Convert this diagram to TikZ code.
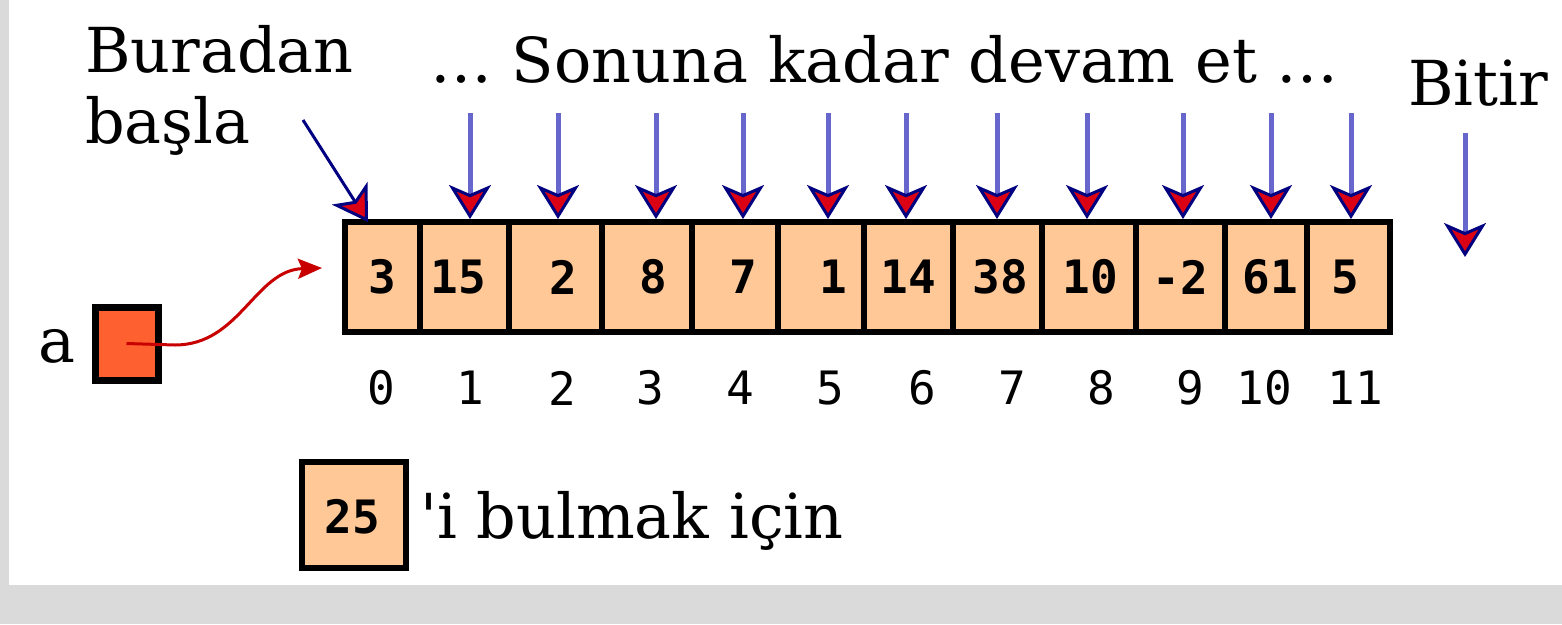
\documentclass[tikz,border=0pt]{standalone}
\usepackage{fontspec}
\setmainfont{DejaVu Serif}
\newfontfamily\monofont{DejaVu Sans Mono}
\usetikzlibrary{arrows.meta}
\definecolor{bggray}{RGB}{218,218,218}
\definecolor{peach}{RGB}{255,200,150}
\definecolor{redbox}{RGB}{255,96,48}
\definecolor{shaft}{RGB}{102,102,204}
\definecolor{tipred}{RGB}{220,0,20}
\definecolor{tipnavy}{RGB}{0,0,128}
\definecolor{curvered}{RGB}{200,0,0}
\tikzset{
  serif/.style={font=\fontsize{62}{74}\selectfont, inner sep=0pt, anchor=base west},
  cellbox/.style={draw=black, line width=6pt, fill=peach, minimum height=110pt, inner sep=0pt},
  val/.style={font=\monofont\bfseries\fontsize{46}{50}\selectfont, inner sep=0pt},
  idx/.style={font=\monofont\fontsize{46}{50}\selectfont, inner sep=0pt},
  bluetip/.style={-{Stealth[length=34pt,width=42pt,inset=9pt,fill=tipred,color=tipnavy,line width=3pt]}},
  downarrow/.style={bluetip, draw=shaft, line width=5pt},
  startarrow/.style={bluetip, draw=tipnavy, line width=3pt},
  redarrow/.style={-{Stealth[length=24pt,width=20pt,inset=4pt]}, draw=curvered, line width=3pt},
}
\begin{document}
\begin{tikzpicture}[x=1pt,y=-1pt]
\useasboundingbox (0,0) rectangle (1562,624);
\fill[bggray] (0,0) rectangle (1562,624);
\fill[white] (9,0) rectangle (1562,585);

% array cells
\foreach \l/\r [count=\i from 0] in {345/420,420/509,509/602,602/692,692/778,778/864,864/953,953/1042,1042/1136,1136/1225,1225/1307,1307/1390}{
  \node[cellbox, minimum width={\r-\l}] (c\i) at ({(\l+\r)/2},277) {};
}
% values
\foreach \x/\v [count=\i from 0] in {382/3,458/15,563/2,653/8,743/7,833/1,908/14,1000/38,1090/10,1180/-2,1270/61,1345/5}{
  \node[val] (v\i) at (\x,277) {\v};
}
% indices
\foreach \x [count=\i from 0] in {381,470,562,650,740,830,922,1012,1101,1190,1264,1355}{
  \node[idx] (n\i) at (\x,388) {\i};
}

% texts
\node[serif] (bur) at (85,72) {Buradan};
\node[serif] (bas) at (85,143) {başla};
\node[serif] (son) at (430,82) {… Sonuna kadar devam et …};
\node[serif] (bit) at (1408,105) {Bitir};
\node[serif] (alab) at (38,362) {a};
\node[serif] (bul) at (420,538) {\textquotesingle i bulmak için};

% pointer a
\node[draw=black, line width=7pt, fill=redbox, minimum width=63pt, minimum height=73pt, inner sep=0pt] (abox) at (126.5,343.5) {};
\coordinate (aend) at (322,268);
\draw[redarrow] (abox.center) -- (175,345) .. controls (240,345) and (255,270) .. (aend);

% 25 box
\node[cellbox, minimum width=104pt, minimum height=106pt] (key) at (354,515) {};
\node[val] (kv) at (352,517) {25};

% start arrow
\coordinate (s0) at (303,120);
\coordinate (s1) at (368,222);
\draw[startarrow] (s0) -- (s1);

% downward arrows
\foreach \x/\c in {470/1,558/2,656/3,743/4,828/5,906/6,997/7,1087/8,1183/9,1271/10,1351/11}{
  \coordinate (t\c) at (\x,113);
  \draw[downarrow] (t\c) -- (t\c |- c\c.north);
}

% Bitir arrow
\coordinate (b0) at (1465,133);
\coordinate (b1) at (1465,257);
\draw[downarrow] (b0) -- (b1);
\end{tikzpicture}
\end{document}
